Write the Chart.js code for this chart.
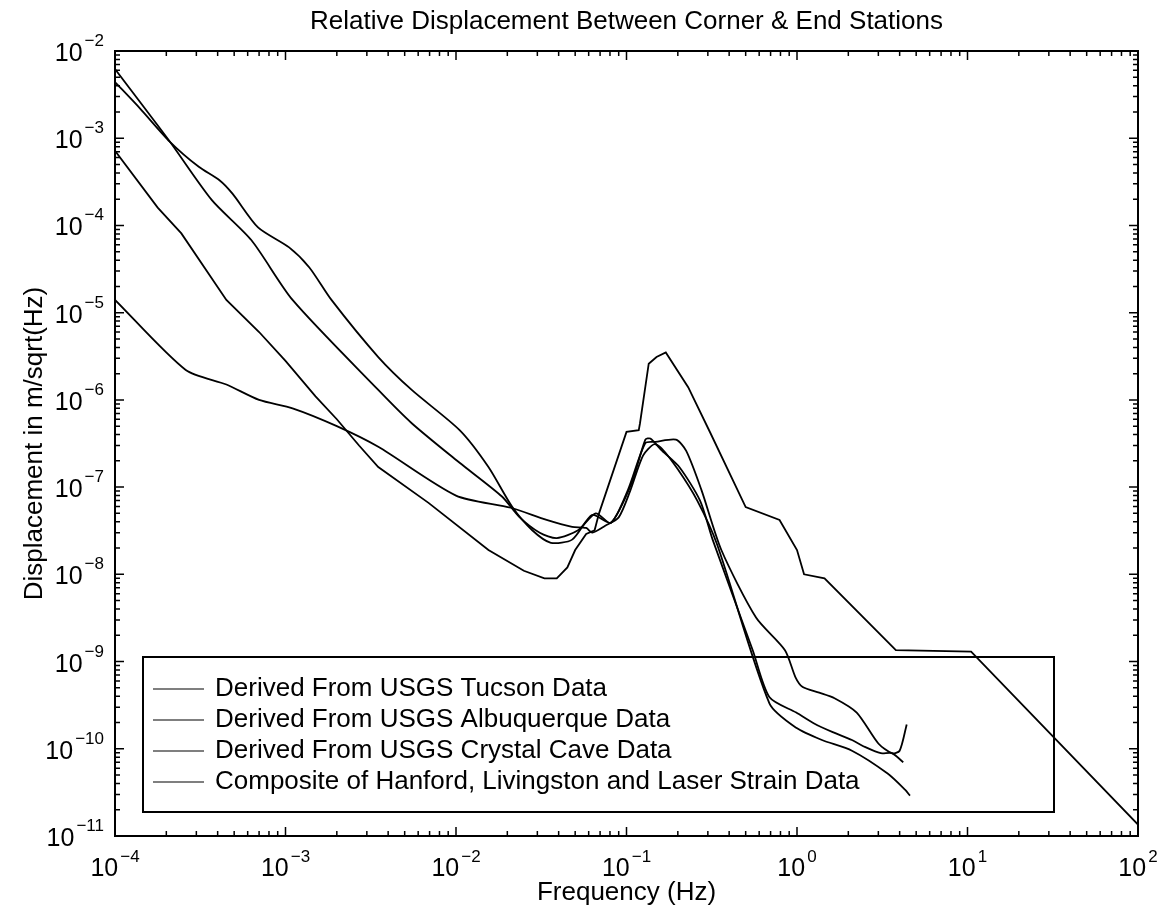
<!DOCTYPE html>
<html>
<head>
<meta charset="utf-8">
<title>Relative Displacement Between Corner & End Stations</title>
<script src="https://cdn.jsdelivr.net/npm/chart.js@4.4.1/dist/chart.umd.min.js"></script>
<style>
  html, body { margin: 0; padding: 0; background: #fff; }
  canvas { display: block; }
</style>
</head>
<body>
<canvas id="dispChart" width="1157" height="914"></canvas>
<script>
// text
const TITLE = 'Relative Displacement Between Corner & End Stations';
const X_TITLE = 'Frequency (Hz)';
const Y_TITLE = 'Displacement in m/sqrt(Hz)';
const X_EXPONENTS = [-4, -3, -2, -1, 0, 1, 2];
const Y_EXPONENTS = [-2, -3, -4, -5, -6, -7, -8, -9, -10, -11];

const LABELS = [
  'Derived From USGS Tucson Data',
  'Derived From USGS Albuquerque Data',
  'Derived From USGS Crystal Cave Data',
  'Composite of Hanford, Livingston and Laser Strain Data'
];

// Tucson
const tucsonFreq = [1e-4, 1.4e-4, 2.1e-4, 3.1e-4, 4.1e-4, 4.9e-4, 6.9e-4, 1.05e-3, 1.38e-3, 1.86e-3,
  3.5e-3, 5.5e-3, 1.05e-2, 1.55e-2, 2.14e-2, 2.8e-2, 3.6e-2, 4.8e-2, 6.3e-2, 8.1e-2,
  0.102, 0.129, 0.148, 0.195, 0.224, 0.275, 0.36, 0.575, 0.85, 0.98, 1.08, 1.35, 1.66, 2.24,
  3.0, 3.6, 4.0, 4.4];
const tucsonVals = [4.4e-3, 2.2e-3, 9.1e-4, 4.7e-4, 3.3e-4, 2.3e-4, 9.5e-5, 5.6e-5, 3.3e-5, 1.4e-5,
  3.1e-6, 1.3e-6, 4.5e-7, 1.7e-7, 5.9e-8, 3.2e-8, 2.3e-8, 2.5e-8, 4.8e-8, 3.9e-8,
  9.3e-8, 3.2e-7, 3.3e-7, 3.5e-7, 2.6e-7, 9.3e-8, 1.9e-8, 3.2e-9, 1.35e-9, 6.6e-10, 5.1e-10, 4.4e-10, 3.8e-10, 2.6e-10,
  1.15e-10, 8.9e-11, 9.5e-11, 1.9e-10];

// Albuquerque
const albuqFreq = [1e-4, 2.1e-4, 3.7e-4, 6.3e-4, 1.1e-3, 3.5e-3, 5.5e-3, 1.05e-2, 1.86e-2, 2.34e-2,
  3.1e-2, 3.9e-2, 5.2e-2, 6.6e-2, 8.1e-2, 0.107, 0.129, 0.138, 0.162, 0.204, 0.27, 0.32,
  0.55, 0.69, 0.99, 1.26, 1.62, 2.1, 2.5, 3.1, 3.6, 4.2];
const albuqVals = [6.2e-3, 9.1e-4, 1.95e-4, 6.8e-5, 1.4e-5, 1.3e-6, 5.4e-7, 1.9e-7, 7.8e-8, 4.6e-8,
  3e-8, 2.6e-8, 3.2e-8, 5e-8, 3.9e-8, 1.1e-7, 3.5e-7, 3.6e-7, 2.6e-7, 1.7e-7, 7e-8, 2.5e-8,
  1.35e-9, 3.9e-10, 2.6e-10, 1.95e-10, 1.55e-10, 1.26e-10, 1.05e-10, 8.9e-11, 8.9e-11, 7e-11];

// Crystal Cave
const crystalFreq = [1e-4, 2.6e-4, 4.5e-4, 7e-4, 1.1e-3, 2e-3, 3.5e-3, 1e-2, 2.1e-2, 3.4e-2,
  4.8e-2, 5.8e-2, 6.3e-2, 7.5e-2, 9e-2, 0.105, 0.125, 0.145, 0.16, 0.2, 0.26, 0.34,
  0.69, 0.99, 1.4, 2.1, 3.4, 4.3, 4.6];
const crystalVals = [1.4e-5, 2.2e-6, 1.5e-6, 1e-6, 8e-7, 5e-7, 2.9e-7, 8e-8, 5.8e-8, 4.2e-8,
  3.5e-8, 3.4e-8, 3e-8, 3.6e-8, 4.5e-8, 9e-8, 2.3e-7, 3.1e-7, 2.8e-7, 1.6e-7, 7e-8, 2.2e-8,
  3.3e-10, 1.74e-10, 1.26e-10, 9.5e-11, 5.2e-11, 3.4e-11, 2.9e-11];

// Composite
const compFreq = [1e-4, 1.78e-4, 2.45e-4, 4.5e-4, 7e-4, 1e-3, 1.5e-3, 2e-3, 2.7e-3, 3.5e-3,
  6.9e-3, 1.55e-2, 2.5e-2, 3.3e-2, 3.9e-2, 4.5e-2, 5e-2, 5.8e-2, 6.5e-2, 6.9e-2,
  0.1, 0.118, 0.12, 0.135, 0.15, 0.17, 0.23, 0.31, 0.5, 0.79, 1.0, 1.1, 1.45, 3.8, 10.5, 100];
const compVals = [7.2e-4, 1.6e-4, 8.1e-5, 1.4e-5, 6e-6, 2.8e-6, 1.1e-6, 6e-7, 3e-7, 1.7e-7,
  6.6e-8, 1.9e-8, 1.1e-8, 9e-9, 9e-9, 1.2e-8, 1.9e-8, 2.9e-8, 3.2e-8, 5e-8,
  4.3e-7, 4.5e-7, 5.4e-7, 2.6e-6, 3.1e-6, 3.5e-6, 1.4e-6, 4.2e-7, 5.9e-8, 4.2e-8, 1.9e-8, 1e-8, 9e-9, 1.35e-9, 1.3e-9, 1.35e-11];

const FONT = '"Liberation Sans", Arial, Helvetica, sans-serif';

function toPoints(xs, ys) {
  return xs.map((x, i) => ({ x: x, y: ys[i] }));
}

// frame, inward ticks, power-of-ten labels, titles and legend box
const decoration = {
  id: 'decoration',
  afterDatasetsDraw(chart) {
    const { ctx, chartArea: a, scales: { x, y } } = chart;
    ctx.save();
    ctx.strokeStyle = '#000';
    ctx.fillStyle = '#000';

    // ticks
    ctx.lineWidth = 1.5;
    ctx.beginPath();
    for (let e = -4; e < 2; e++) {
      for (let m = 1; m <= 9; m++) {
        const px = x.getPixelForValue(m * Math.pow(10, e));
        const len = m === 1 ? 9 : 5;
        ctx.moveTo(px, a.bottom); ctx.lineTo(px, a.bottom - len);
        ctx.moveTo(px, a.top); ctx.lineTo(px, a.top + len);
      }
    }
    for (let e = -11; e < -2; e++) {
      for (let m = 1; m <= 9; m++) {
        const py = y.getPixelForValue(m * Math.pow(10, e));
        const len = m === 1 ? 9 : 5;
        ctx.moveTo(a.left, py); ctx.lineTo(a.left + len, py);
        ctx.moveTo(a.right, py); ctx.lineTo(a.right - len, py);
      }
    }
    ctx.stroke();

    // frame
    ctx.lineWidth = 2;
    ctx.strokeRect(a.left, a.top, a.right - a.left, a.bottom - a.top);

    // tick labels
    const baseFont = '25px ' + FONT;
    const expFont = '17px ' + FONT;
    ctx.textBaseline = 'alphabetic';
    ctx.textAlign = 'left';
    X_EXPONENTS.forEach(e => {
      const px = x.getPixelForValue(Math.pow(10, e));
      const expTxt = e < 0 ? '\u2212' + (-e) : String(e);
      ctx.font = baseFont;
      const w1 = ctx.measureText('10').width;
      ctx.font = expFont;
      const w2 = ctx.measureText(expTxt).width;
      const left = px - (w1 + w2 + 2) / 2;
      ctx.font = baseFont;
      ctx.fillText('10', left, a.bottom + 40);
      ctx.font = expFont;
      ctx.fillText(expTxt, left + w1 + 2, a.bottom + 26);
    });
    Y_EXPONENTS.forEach(e => {
      const py = y.getPixelForValue(Math.pow(10, e));
      const expTxt = '\u2212' + (-e);
      ctx.font = expFont;
      const w2 = ctx.measureText(expTxt).width;
      ctx.font = baseFont;
      const w1 = ctx.measureText('10').width;
      const right = a.left - 11;
      ctx.fillText('10', right - w2 - 2 - w1, py + 10);
      ctx.font = expFont;
      ctx.fillText(expTxt, right - w2, py - 5);
    });

    // titles
    ctx.font = '26px ' + FONT;
    ctx.textAlign = 'center';
    ctx.textBaseline = 'middle';
    ctx.fillText(TITLE, (a.left + a.right) / 2, 22);
    ctx.fillText(X_TITLE, (a.left + a.right) / 2, 893);
    ctx.save();
    ctx.translate(35, (a.top + a.bottom) / 2);
    ctx.rotate(-Math.PI / 2);
    ctx.fillText(Y_TITLE, 0, 0);
    ctx.restore();

    // legend box (transparent, drawn over the curves)
    const box = { left: 143, top: 657, right: 1054, bottom: 812 };
    ctx.lineWidth = 2;
    ctx.strokeRect(box.left, box.top, box.right - box.left, box.bottom - box.top);
    ctx.font = '26px ' + FONT;
    ctx.textAlign = 'left';
    chart.data.datasets.forEach((ds, i) => {
      const ly = 689 + i * 31;
      ctx.strokeStyle = ds.borderColor;
      ctx.lineWidth = 1.2;
      ctx.beginPath();
      ctx.moveTo(153, ly);
      ctx.lineTo(204, ly);
      ctx.stroke();
      ctx.fillText(ds.label, 215, ly);
    });
    ctx.restore();
  }
};

window.addEventListener('DOMContentLoaded', () => {
  const ctx = document.getElementById('dispChart').getContext('2d');

  const lineStyle = {
    borderColor: '#000',
    borderWidth: 1.8,
    pointRadius: 0,
    fill: false
  };

  new Chart(ctx, {
    type: 'line',
    data: {
      datasets: [
        { label: LABELS[0], data: toPoints(tucsonFreq, tucsonVals), tension: 0.25, ...lineStyle },
        { label: LABELS[1], data: toPoints(albuqFreq, albuqVals), tension: 0.25, ...lineStyle },
        { label: LABELS[2], data: toPoints(crystalFreq, crystalVals), tension: 0.25, ...lineStyle },
        { label: LABELS[3], data: toPoints(compFreq, compVals), tension: 0, ...lineStyle }
      ]
    },
    options: {
      responsive: false,
      animation: false,
      layout: { padding: { left: 115, right: 19, top: 51, bottom: 78 } },
      plugins: {
        legend: { display: false },
        title: { display: false },
        tooltip: { enabled: false }
      },
      scales: {
        x: { type: 'logarithmic', min: 1e-4, max: 100, display: false },
        y: { type: 'logarithmic', min: 1e-11, max: 1e-2, display: false }
      }
    },
    plugins: [decoration]
  });
});
</script>
</body>
</html>
